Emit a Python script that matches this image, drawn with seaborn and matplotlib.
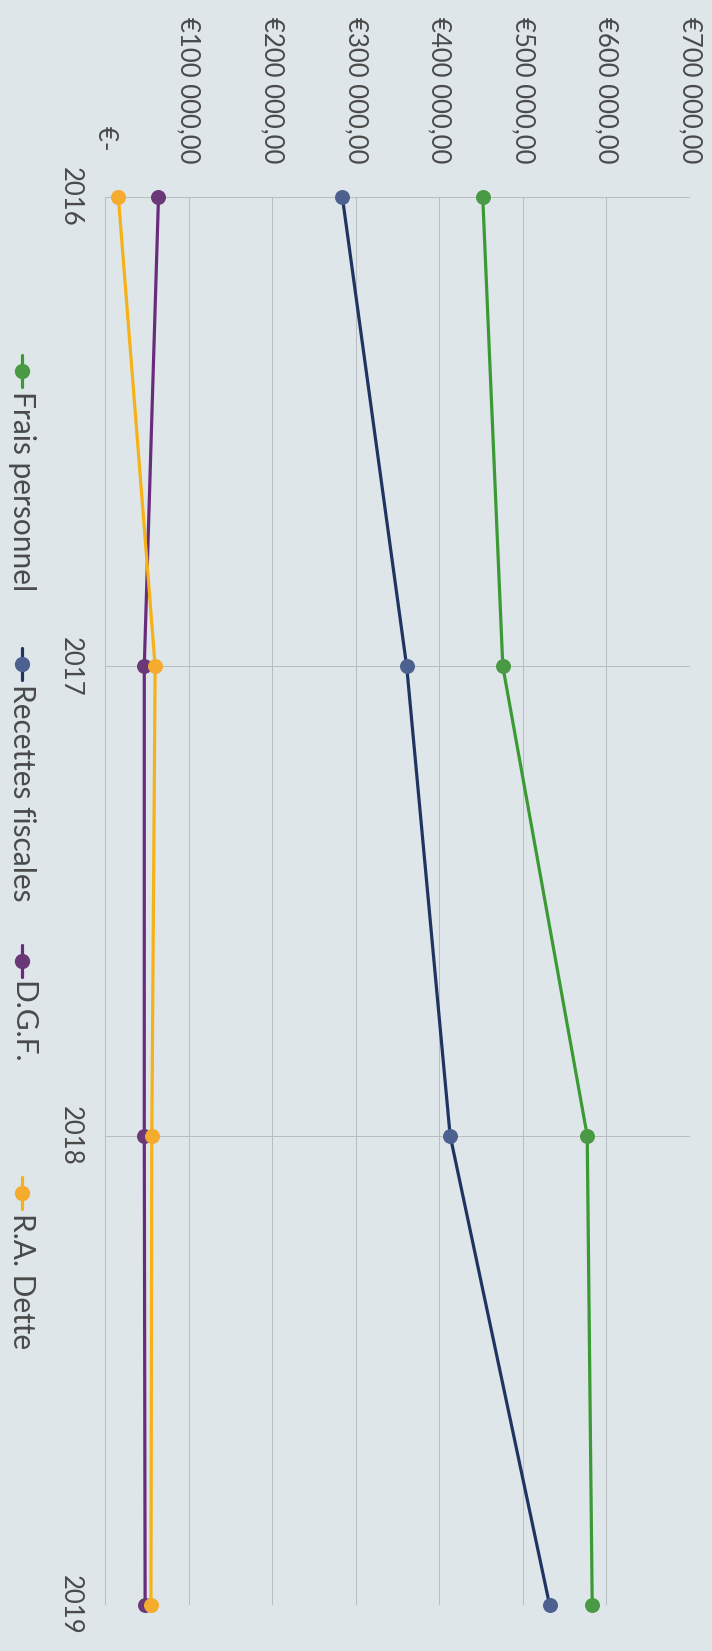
import matplotlib
matplotlib.use("Agg")
import matplotlib.pyplot as plt
from matplotlib.lines import Line2D
import seaborn as sns
import pandas as pd

# Budget lines per year (euros)
years = [2016, 2017, 2018, 2019]
frais_personnel = [452000, 476000, 577000, 583000]
recettes_fiscales = [284000, 361000, 413000, 532000]
dgf = [64000, 47000, 47000, 48000]
ra_dette = [16000, 60000, 56000, 55000]

series_names = ["Frais personnel", "Recettes fiscales", "D.G.F.", "R.A. Dette"]
value_ticks = [0, 100000, 200000, 300000, 400000, 500000, 600000, 700000]
value_labels = ["€-  ", "€100 000,00", "€200 000,00", "€300 000,00",
                "€400 000,00", "€500 000,00", "€600 000,00", "€700 000,00"]

line_colors = ["#3b9a34", "#1f3461", "#692b7c", "#f6b116"]
marker_colors = ["#4a9944", "#4c6190", "#6a3877", "#f5ab2c"]

sns.set_theme(style="white")
plt.rcParams["font.family"] = ["Lato", "DejaVu Sans"]

BG = "#dee6ea"
TXT = "#4a4a4a"
W, H = 712, 1651
fig = plt.figure(figsize=(W / 100, H / 100), dpi=100, facecolor=BG)
ax = fig.add_axes([105 / W, 1 - 1605 / H, (690 - 105) / W, (1605 - 197) / H])
ax.set_facecolor(BG)

df = pd.DataFrame({
    "year": years * 4,
    "value": frais_personnel + recettes_fiscales + dgf + ra_dette,
    "series": [s for s in series_names for _ in years],
})

for name, lc, mc in zip(series_names, line_colors, marker_colors):
    sub = df[df["series"] == name]
    sns.lineplot(data=sub, x="value", y="year", orient="y", sort=False,
                 color=lc, lw=2.3, marker="o", markersize=10,
                 markerfacecolor=mc, markeredgecolor=mc, clip_on=False,
                 zorder=3, ax=ax, legend=False)

ax.set_xlim(0, 700000)
ax.set_ylim(2019, 2016)
ax.set_xlabel("")
ax.set_ylabel("")

ax.set_xticks(value_ticks)
ax.xaxis.tick_top()
ax.set_xticklabels(value_labels, rotation=-90, fontsize=18.5, color=TXT)
for t in ax.get_xticklabels():
    t.set_va("bottom")
    t.set_ha("center")
ax.tick_params(axis="x", length=0, pad=24)

ax.set_yticks(years)
ax.set_yticklabels([str(y) for y in years], rotation=-90, fontsize=18.5,
                   color=TXT)
for t in ax.get_yticklabels():
    t.set_va("center")
ax.tick_params(axis="y", length=0, pad=16)

ax.grid(True, color="#b7bcc0", lw=0.7)
for s in ax.spines.values():
    s.set_visible(False)

# Legend drawn along the left edge, reading top to bottom
legend_centers = [371, 664, 961, 1193]
lx = 22 / W
for name, lc, mc, yc in zip(series_names, line_colors, marker_colors, legend_centers):
    y0 = 1 - (yc - 16) / H
    y1 = 1 - (yc + 16) / H
    fig.add_artist(Line2D([lx, lx], [y0, y1], transform=fig.transFigure,
                          color=lc, lw=2.3))
    fig.add_artist(Line2D([lx], [1 - yc / H], transform=fig.transFigure,
                          color=mc, marker="o", markersize=10, lw=0))
    fig.text(lx, 1 - (yc + 20) / H, name, rotation=-90, ha="center", va="top",
             fontsize=21.5, color=TXT)

fig.savefig("out.png", dpi=100, facecolor=BG)
